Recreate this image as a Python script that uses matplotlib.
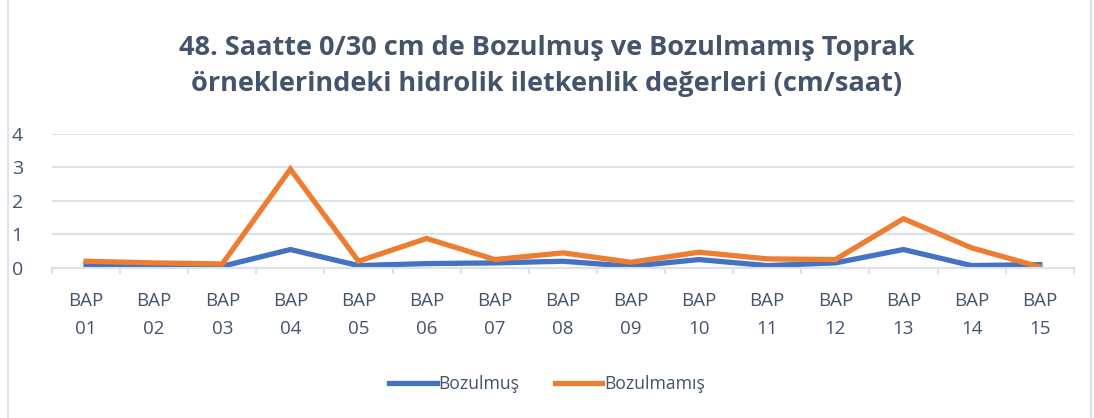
import numpy as np
import matplotlib.pyplot as plt
from matplotlib.patches import Rectangle

plt.rcParams['font.family'] = ['Open Sans', 'DejaVu Sans']

labels = ["BAP\n%02d" % i for i in range(1, 16)]
bozulmus = [0.10, 0.05, 0.05, 0.55, 0.07, 0.13, 0.15, 0.20, 0.05, 0.25, 0.07, 0.15, 0.55, 0.07, 0.10]
bozulmamis = [0.20, 0.15, 0.12, 2.95, 0.20, 0.88, 0.25, 0.45, 0.17, 0.47, 0.27, 0.25, 1.47, 0.60, 0.03]

title = "48. Saatte 0/30 cm de Bozulmuş ve Bozulmamış Toprak\nörneklerindeki hidrolik iletkenlik değerleri (cm/saat)"

txt = '#44546a'
grid = '#dde1e8'

fig = plt.figure(figsize=(10.94, 4.18), dpi=100)
ax = fig.add_axes([0.0475, 0.359, 0.934, 0.3205])

x = np.arange(len(labels))
ax.plot(x, bozulmus, color='#4472c4', lw=3.8, label='Bozulmuş', solid_joinstyle='miter')
ax.plot(x, bozulmamis, color='#ed7d31', lw=3.8, label='Bozulmamış', solid_joinstyle='miter')

ax.set_xlim(-0.5, len(labels) - 0.5)
ax.set_ylim(0, 4)
ax.set_yticks([0, 1, 2, 3, 4])
ax.set_xticks(x)
ax.set_xticklabels(labels, linespacing=1.75)
ax.set_xticks(np.arange(-0.5, len(labels), 1), minor=True)
ax.tick_params(axis='x', which='major', length=0, pad=17, labelsize=13.5, labelcolor=txt)
ax.tick_params(axis='x', which='minor', length=4, color=grid, width=1.5)
ax.tick_params(axis='y', length=0, pad=21, labelsize=14, labelcolor=txt)
ax.grid(axis='y', color=grid, lw=1.5)
ax.set_axisbelow(True)
for s in ['top', 'right', 'left']:
    ax.spines[s].set_visible(False)
ax.spines['bottom'].set_color(grid)
ax.spines['bottom'].set_linewidth(1.5)

fig.text(0.5, 0.768, title, ha='center', va='bottom', fontsize=19.5, fontweight='bold',
         color=txt, linespacing=1.48)

fig.legend(loc='center', bbox_to_anchor=(0.5, 0.082), ncol=2, frameon=False,
           fontsize=12.7, labelcolor=txt, handlelength=2.7, handletextpad=0.1, columnspacing=2.0)

fig.patches.append(Rectangle((0.007, -0.01), 0.99, 1.02, transform=fig.transFigure,
                             fill=False, edgecolor=grid, lw=1.5))

fig.savefig('out.png', dpi=100, facecolor='white')
